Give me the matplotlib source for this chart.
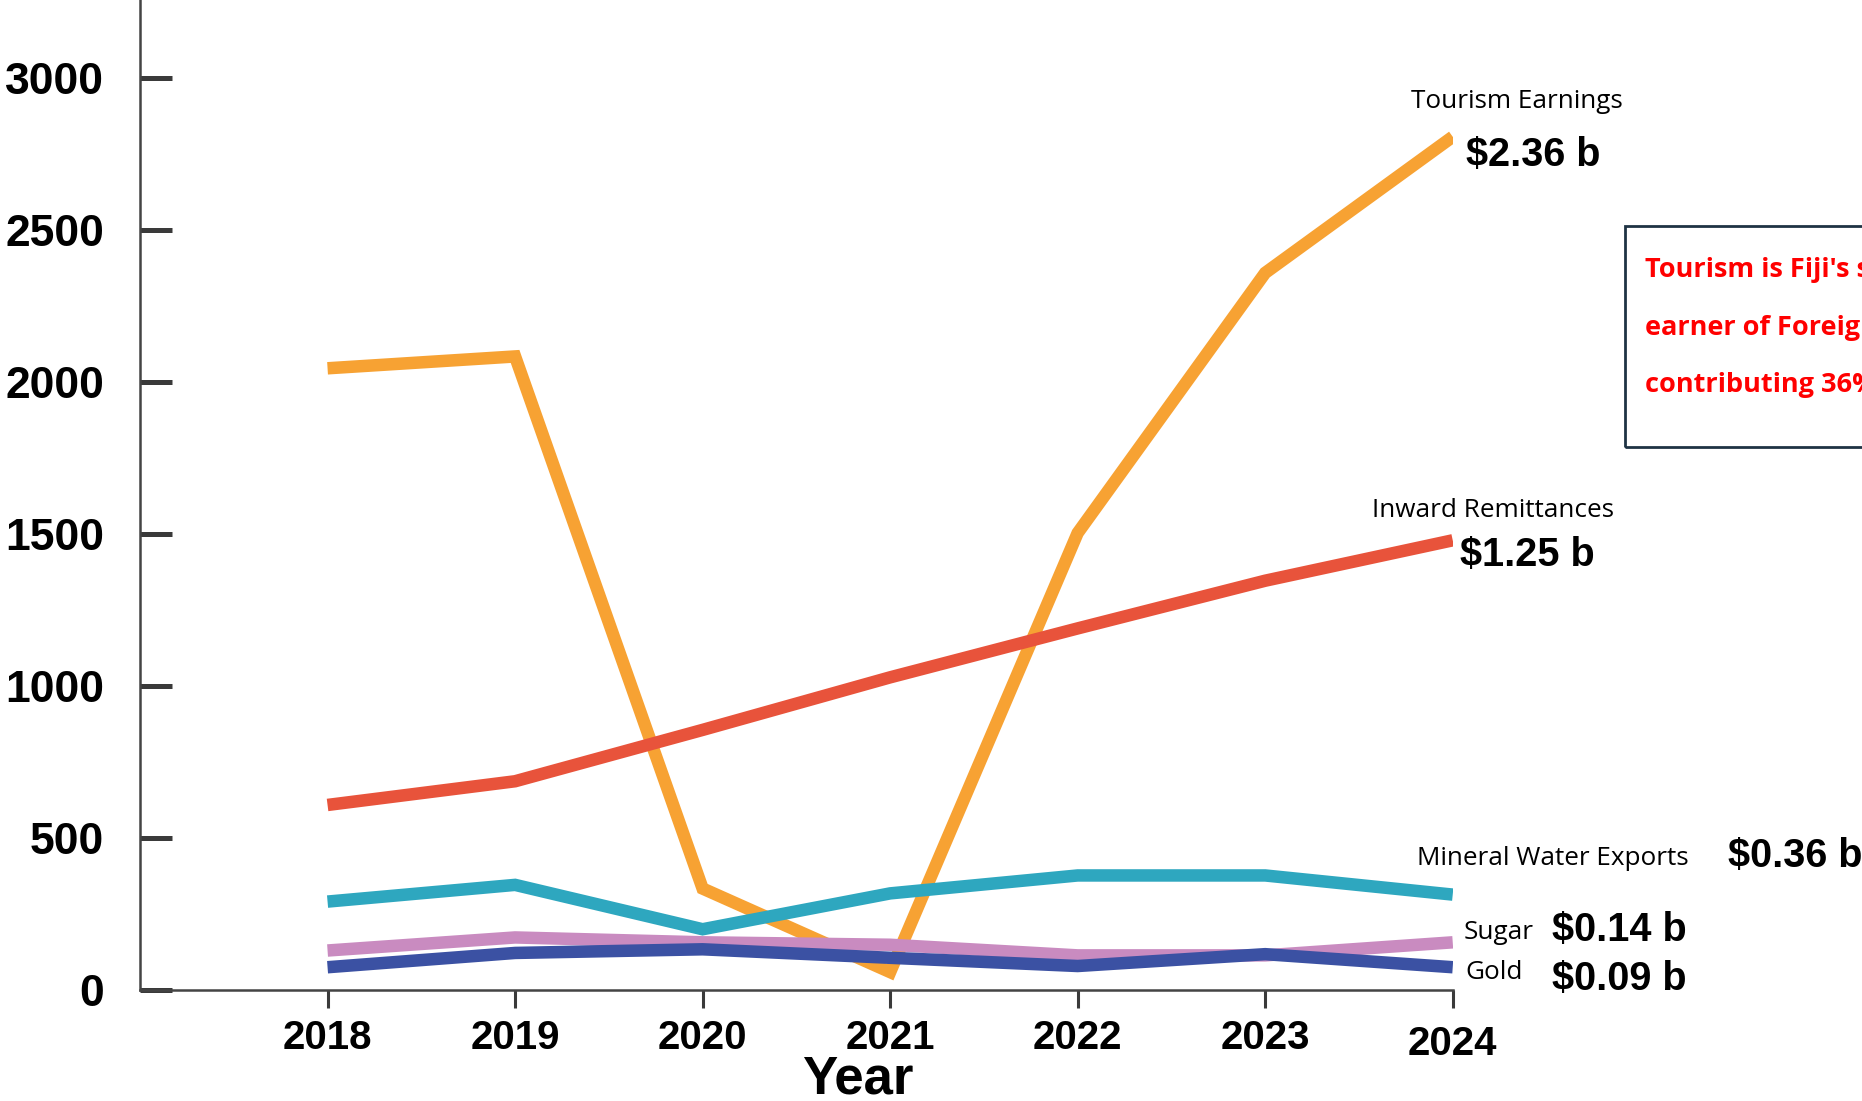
import matplotlib.pyplot as plt
from matplotlib.patches import Rectangle
from matplotlib.transforms import ScaledTranslation

# data (millions FJD)
years = [2018, 2019, 2020, 2021, 2022, 2023, 2024]
tourism = [2046, 2085, 334, 59, 1504, 2360, 2808]
remittances = [609, 687, 856, 1029, 1190, 1347, 1480]
mineral_water = [291, 346, 200, 318, 377, 377, 314]
sugar = [130, 173, 157, 149, 114, 114, 157]
gold = [75, 122, 134, 106, 79, 118, 75]

series = [
    (tourism, "#F7A233"),
    (remittances, "#E8533B"),
    (mineral_water, "#2EA7BF"),
    (sugar, "#C98BC0"),
    (gold, "#3B51A3"),
]

# label text, name position, value text, value position
labels = [
    ("Tourism Earnings", 2023.78, 2925, "$2.36 b", 2024.07, 2749),
    ("Inward Remittances", 2023.57, 1578, "$1.25 b", 2024.04, 1433),
    ("Mineral Water Exports", 2023.81, 432, "$0.36 b", 2025.47, 440),
    ("Sugar", 2024.06, 188, "$0.14 b", 2024.53, 196),
    ("Gold", 2024.07, 59, "$0.09 b", 2024.53, 35),
]

note_lines = ["Tourism is Fiji's single largest",
              "earner of Foreign Exchange,",
              "contributing 36% of GDP"]

fig = plt.figure(figsize=(18.62, 11.01), dpi=100)
ax = fig.add_axes([0.0752, 0.1008, 0.705, 0.8992])

for vals, col in series:
    ax.plot(years, vals, color=col, lw=9, solid_capstyle="butt", solid_joinstyle="miter")

ax.set_xlim(2017, 2024)
ax.set_ylim(0, 3258)
ax.set_xticks(years)
ax.set_yticks([0, 500, 1000, 1500, 2000, 2500, 3000])

for s in ["top", "right"]:
    ax.spines[s].set_visible(False)
for s in ["left", "bottom"]:
    ax.spines[s].set_color("#444444")
    ax.spines[s].set_linewidth(1.8)

ax.tick_params(axis="y", direction="in", length=23, width=3.6, color="#3a3a3a", pad=26)
ax.tick_params(axis="x", direction="out", length=13, width=2.2, color="#3a3a3a", pad=8)
for lab in ax.get_yticklabels():
    lab.set_fontfamily("Liberation Sans")
    lab.set_fontweight("bold")
    lab.set_fontsize(32)
for lab in ax.get_xticklabels():
    lab.set_fontfamily("Liberation Sans")
    lab.set_fontweight("bold")
    lab.set_fontsize(29)
# last year label sits a little lower in the original
last = ax.xaxis.get_major_ticks()[-1].label1
last.set_transform(last.get_transform() + ScaledTranslation(0, -0.06, fig.dpi_scale_trans))

fig.text(0.4604, 0.007, "Year", fontfamily="Liberation Sans", fontweight="bold",
         fontsize=38, ha="center", va="baseline")

for name, nx, ny, val, vx, vy in labels:
    ax.text(nx, ny, name, fontfamily="Open Sans", fontsize=18.8, ha="left", va="center",
            clip_on=False)
    ax.text(vx, vy, val, fontfamily="Liberation Sans", fontweight="bold", fontsize=28.5,
            ha="left", va="center", clip_on=False)

# annotation box at right edge (cut off in the original)
fig.patches.append(Rectangle((0.8727, 0.594), 0.3, 0.201, transform=fig.transFigure,
                             fill=False, edgecolor="#1F3344", lw=2))
for i, line in enumerate(note_lines):
    fig.text(0.8834, 0.755 - i * 0.0525, line, color="red", fontfamily="Open Sans",
             fontweight="bold", fontsize=19.5, ha="left", va="center")

fig.savefig("out.png", dpi=100)
